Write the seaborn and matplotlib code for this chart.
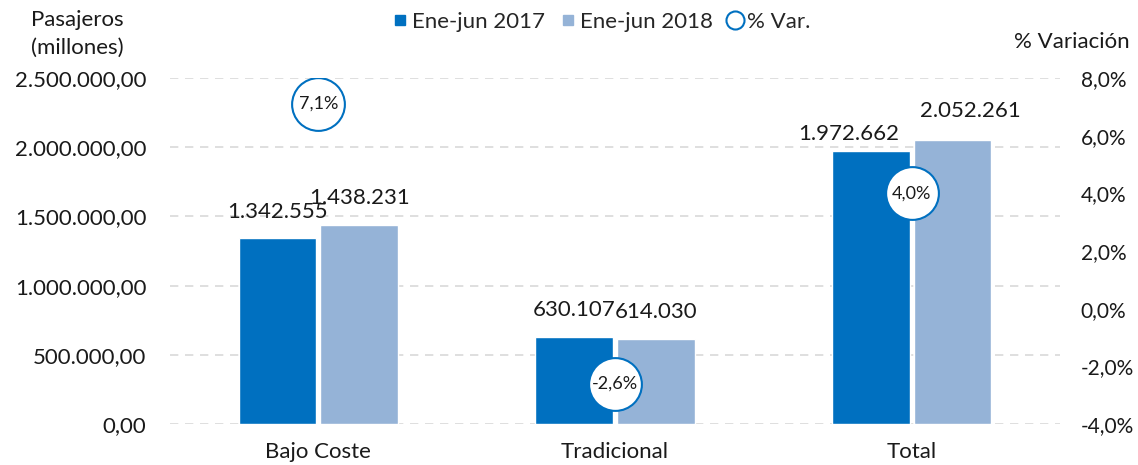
import matplotlib
matplotlib.use("Agg")
import matplotlib.pyplot as plt
import numpy as np
import pandas as pd
import seaborn as sns
from matplotlib.lines import Line2D
from matplotlib.ticker import FuncFormatter

categories = ["Bajo Coste", "Tradicional", "Total"]
series = ["Ene-jun 2017", "Ene-jun 2018"]
pax_2017 = [1342555, 630107, 1972662]
pax_2018 = [1438231, 614030, 2052261]
pct_var = [7.1, -2.6, 4.0]

DARK = "#0070C0"
LIGHT = "#95B3D7"
TXT = "#1a1a1a"


def es_num(v, dec=0):
    s = f"{v:,.{dec}f}"
    return s.replace(",", "X").replace(".", ",").replace("X", ".")


df = pd.DataFrame({
    "categoria": categories * 2,
    "periodo": [series[0]] * 3 + [series[1]] * 3,
    "pasajeros": pax_2017 + pax_2018,
})

sns.set_style("white")
plt.rcParams["font.family"] = ["Lato", "DejaVu Sans"]

fig = plt.figure(figsize=(11.38, 4.65), dpi=100)
ax = fig.add_axes([170 / 1138, 41 / 465, 890 / 1138, 346 / 465])

sns.barplot(data=df, x="categoria", y="pasajeros", hue="periodo",
            palette=[DARK, LIGHT], width=0.55, gap=0.05, ax=ax,
            legend=False, saturation=1)

labels = []
for cont in ax.containers:
    labels.append(ax.bar_label(cont, labels=[es_num(b.get_height()) for b in cont],
                               padding=12, fontsize=16, color=TXT))
# Excel nudges the crowded "Total" labels apart
labels[0][2].xyann = (-16, 5)
labels[1][2].xyann = (13, 14)

ax.set_ylim(0, 2500000)
ax.set_xlim(-0.5, 2.5)
ax.set_yticks(np.arange(0, 2500001, 500000))
ax.yaxis.set_major_formatter(FuncFormatter(lambda v, _: es_num(v, 2)))
ax.grid(axis="y", color="#D9D9D9", linestyle=(0, (5, 4)), linewidth=1.2)
ax.set_axisbelow(True)
ax.set_xlabel("")
ax.set_ylabel("")
ax.tick_params(axis="both", length=0, labelsize=16, colors=TXT)
ax.tick_params(axis="y", pad=17)
ax.tick_params(axis="x", pad=13)
sns.despine(ax=ax, left=True, bottom=True)

ax2 = ax.twinx()
ax2.plot(range(len(categories)), pct_var, linestyle="none", marker="o",
         markersize=38, markerfacecolor="white", markeredgecolor=DARK,
         markeredgewidth=1.5, zorder=5)
for i, v in enumerate(pct_var):
    ax2.text(i, v, es_num(v, 1) + "%", ha="center", va="center",
             fontsize=13, color=TXT, zorder=6)
ax2.set_ylim(-4, 8)
ax2.set_yticks(np.arange(-4, 8.1, 2))
ax2.yaxis.set_major_formatter(FuncFormatter(lambda v, _: es_num(v, 1) + "%"))
ax2.tick_params(axis="y", length=0, labelsize=15, colors=TXT, pad=15)
for sp in ax2.spines.values():
    sp.set_visible(False)

fig.text(77 / 1138, 1 - 34 / 465, "Pasajeros\n(millones)", ha="center",
         va="center", fontsize=16, color=TXT, linespacing=1.45)
fig.text(1130 / 1138, 1 - 42 / 465, "% Variación", ha="right", va="center",
         fontsize=16, color=TXT)

handles = [
    Line2D([], [], linestyle="none", marker="s", markersize=7,
           markerfacecolor=DARK, markeredgecolor=DARK),
    Line2D([], [], linestyle="none", marker="s", markersize=7,
           markerfacecolor=LIGHT, markeredgecolor=LIGHT),
    Line2D([], [], linestyle="none", marker="o", markersize=13,
           markerfacecolor="white", markeredgecolor=DARK, markeredgewidth=1.5),
]
fig.legend(handles, series + ["% Var."], loc="center", ncol=3,
           bbox_to_anchor=(601 / 1138, 1 - 22 / 465), frameon=False,
           fontsize=16, handletextpad=0.15, columnspacing=0.6,
           handlelength=0.8, borderpad=0)

fig.savefig("out.png", dpi=100)
